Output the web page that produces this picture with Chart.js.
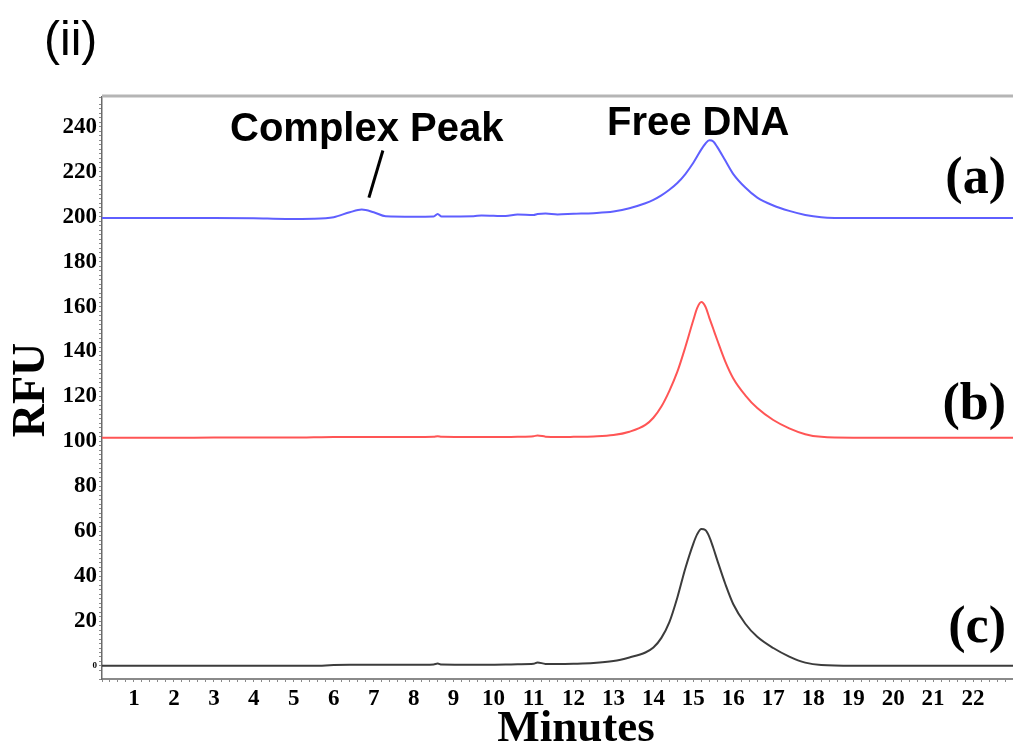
<!DOCTYPE html>
<html>
<head>
<meta charset="utf-8">
<script src="https://cdn.jsdelivr.net/npm/chart.js@4/dist/chart.umd.min.js"></script>
<style>
  html, body { margin: 0; padding: 0; background: #fff; }
</style>
</head>
<body>
<canvas id="chromChart" width="1013" height="744"></canvas>
<script>
// retention time grid (minutes)
const minutes = [0.2, 1, 2, 3, 4, 4.8, 5.5, 6.0, 6.4, 6.7,
  7.0, 7.3, 8.0, 8.5, 8.6, 8.7, 9.5, 9.7, 10.3, 10.6,
  11.0, 11.1, 11.3, 11.6, 12.0, 12.5, 13.0, 13.4, 13.8, 14.0,
  14.2, 14.4, 14.6, 14.8, 15.0, 15.1, 15.2, 15.3, 15.4, 15.5,
  15.6, 15.8, 16.0, 16.3, 16.6, 17.0, 17.4, 17.8, 18.2, 19,
  20, 21, 22, 23.0];

// (a) blue trace, offset ~200
const traceA = [199.4, 199.4, 199.4, 199.4, 199.3, 199.0, 199.1, 199.8, 202, 203.2,
  202, 200.2, 200, 200.1, 201.2, 200.1, 200.2, 200.6, 200.3, 201,
  200.8, 201.2, 201.4, 201, 201.3, 201.6, 202.3, 203.8, 206, 207.5,
  209.5, 212, 215, 219, 224, 227, 230, 232.5, 234, 233.5,
  231, 225, 219, 213, 208.5, 205, 202.6, 200.8, 199.8, 199.4,
  199.4, 199.4, 199.4, 199.4];

// (b) red trace, offset ~100
const traceB = [101.6, 101.6, 101.6, 101.7, 101.7, 101.7, 101.8, 101.9, 101.9, 101.9,
  101.9, 101.9, 101.9, 102.0, 102.3, 102.0, 101.9, 101.9, 101.9, 102.0,
  102.3, 102.6, 102.1, 101.9, 102.0, 102.2, 102.8, 104.3, 107.3, 110.5,
  115.5, 122.5, 131, 142, 154, 159.5, 162, 160, 155, 150,
  145, 135.5, 128, 120.5, 114.8, 109.5, 105.8, 103.2, 102, 101.6,
  101.6, 101.6, 101.6, 101.6];

// (c) black trace
const traceC = [0.1, 0.1, 0.1, 0.1, 0.1, 0.1, 0.1, 0.4, 0.5, 0.5,
  0.5, 0.5, 0.5, 0.7, 1.1, 0.6, 0.5, 0.5, 0.6, 0.8,
  1.0, 1.6, 0.9, 0.9, 1.0, 1.3, 2.2, 3.8, 6.0, 8.2,
  12.5, 19.5, 30.5, 43.5, 54.5, 58.8, 61, 60.5, 57.5, 52.5,
  47, 36.5, 27.5, 18.8, 13, 8, 4.2, 1.5, 0.4, 0.1,
  0.1, 0.1, 0.1, 0.1];

const xTickLabels = [1, 2, 3, 4, 5, 6, 7, 8, 9, 10, 11, 12, 13, 14, 15, 16, 17, 18, 19, 20, 21, 22];
const yTickLabels = [0, 20, 40, 60, 80, 100, 120, 140, 160, 180, 200, 220, 240];

function pts(ys) {
  return minutes.map((m, i) => ({ x: m, y: ys[i] }));
}
function findLabel(list, v) {
  const r = Math.round(v);
  return Math.abs(v - r) < 1e-6 && list.includes(r) ? String(r) : "";
}

const serif = "'Liberation Serif', 'Times New Roman', serif";
const sans = "'Liberation Sans', Arial, sans-serif";

// texts, pointer and top frame line
const decor = {
  id: "decor",
  afterDraw(chart) {
    const c = chart.ctx;
    const a = chart.chartArea;
    const xs = chart.scales.x, ys = chart.scales.y;
    c.save();
    c.strokeStyle = "#b5b5b5";
    c.lineWidth = 3;
    c.beginPath();
    c.moveTo(a.left, a.top - 1);
    c.lineTo(a.right, a.top - 1);
    c.stroke();

    c.fillStyle = "#000";
    c.textBaseline = "alphabetic";
    c.textAlign = "left";
    c.font = "48px " + sans;
    c.fillText("(ii)", 44, 55);

    c.font = "bold 40px " + sans;
    c.fillText("Complex Peak", 230, 141);
    c.fillText("Free DNA", 607, 135);

    // pointer to the complex peak
    c.strokeStyle = "#000";
    c.lineWidth = 3;
    c.beginPath();
    c.moveTo(xs.getPixelForValue(7.23), ys.getPixelForValue(229.5));
    c.lineTo(xs.getPixelForValue(6.88), ys.getPixelForValue(208.5));
    c.stroke();

    c.font = "bold 52px " + serif;
    c.textAlign = "right";
    c.textBaseline = "middle";
    c.fillText("(a)", 1006, 180);
    c.fillText("(b)", 1006, 406);
    c.fillText("(c)", 1006, 629);

    c.textAlign = "center";
    c.textBaseline = "alphabetic";
    c.font = "bold 45px " + serif;
    c.fillText("Minutes", 576, 741);

    c.translate(44, 390);
    c.rotate(-Math.PI / 2);
    c.font = "bold 46px " + serif;
    c.fillText("RFU", 0, 0);
    c.restore();
  }
};

const ctx = document.getElementById("chromChart").getContext("2d");
const chart = new Chart(ctx, {
  type: "line",
  data: {
    datasets: [
      { label: "(a)", data: pts(traceA), borderColor: "rgb(95, 95, 255)", borderWidth: 2 },
      { label: "(b)", data: pts(traceB), borderColor: "rgb(255, 85, 85)", borderWidth: 2 },
      { label: "(c)", data: pts(traceC), borderColor: "rgb(60, 60, 60)", borderWidth: 2 },
    ],
  },
  options: {
    responsive: false,
    animation: false,
    layout: { padding: { top: 97, right: 0, left: 0, bottom: 0 } },
    elements: {
      point: { radius: 0 },
      line: { cubicInterpolationMode: "monotone", fill: false },
    },
    plugins: { legend: { display: false }, tooltip: { enabled: false } },
    scales: {
      x: {
        type: "linear",
        min: 0.2,
        max: 23.0,
        afterFit: (s) => { s.height = 65; s.paddingRight = 0; s.paddingLeft = 0; },
        border: { color: "#8a8a8a", width: 2 },
        grid: { drawOnChartArea: false, tickLength: 3, color: "#8a8a8a" },
        ticks: {
          stepSize: 0.2,
          autoSkip: false,
          maxRotation: 0,
          minRotation: 0,
          padding: 3,
          color: "#000",
          font: { family: serif, weight: "bold", size: 23 },
          callback: (v) => findLabel(xTickLabels, v),
        },
      },
      y: {
        type: "linear",
        min: -5.8,
        max: 253.3,
        afterFit: (s) => { s.width = 102; },
        border: { color: "#6a6a6a", width: 1.5 },
        grid: { drawOnChartArea: false, tickLength: 3, color: "#8a8a8a" },
        ticks: {
          stepSize: 2,
          autoSkip: false,
          padding: 2,
          color: "#000",
          font: (c) => ({
            family: serif,
            weight: "bold",
            size: c.tick && Math.abs(c.tick.value) < 1e-6 ? 9 : 23,
          }),
          callback: (v) => findLabel(yTickLabels, v),
        },
      },
    },
  },
  plugins: [decor],
});
</script>
</body>
</html>
